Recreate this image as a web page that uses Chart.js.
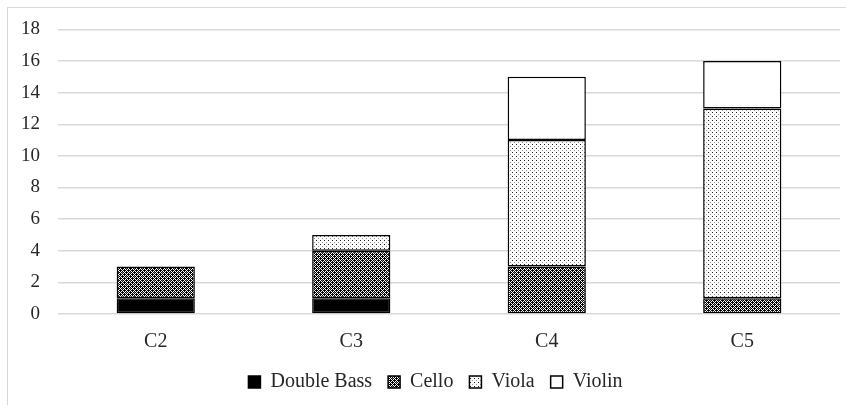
<!DOCTYPE html>
<html>
<head>
<meta charset="utf-8">
<script src="https://cdn.jsdelivr.net/npm/chart.js@4"></script>
<style>
  html, body { margin: 0; padding: 0; background: #fff; }
  #wrap { width: 846px; height: 405px; position: relative; }
</style>
</head>
<body>
<div id="wrap"><canvas id="myChart"></canvas></div>
<script>
const categories = ['C2', 'C3', 'C4', 'C5']
const doubleBass = [1, 1, 0, 0]
const cello = [2, 3, 3, 1]
const viola = [0, 1, 8, 12]
const violin = [0, 0, 4, 3]
const yTicks = [0, 2, 4, 6, 8, 10, 12, 14, 16, 18]

// small tiled patterns like the office fills
function makePattern(size, bg, draw) {
  const c = document.createElement('canvas')
  c.width = size; c.height = size
  const g = c.getContext('2d')
  g.fillStyle = bg
  g.fillRect(0, 0, size, size)
  draw(g)
  return g.createPattern(c, 'repeat')
}

const ctx = document.getElementById('myChart').getContext('2d')

const celloFill = makePattern(8, '#000', g => {
  g.fillStyle = '#fff'
  for (let x = 0; x < 8; x++) {
    for (let y = 0; y < 8; y++) {
      if ((x + y) % 4 === 0 || (x - y + 8) % 4 === 0) g.fillRect(x, y, 1, 1)
    }
  }
  g.fillStyle = '#888'
  g.fillRect(2, 0, 1, 1); g.fillRect(6, 4, 1, 1)
})

const violaFill = makePattern(4, '#fbfbfb', g => {
  g.fillStyle = '#222'
  g.fillRect(0, 0, 1, 1)
  g.fillStyle = '#999'
  g.fillRect(2, 2, 1, 1)
})

const frame = {
  id: 'frame',
  beforeDraw(chart) {
    const c = chart.ctx
    c.save()
    c.fillStyle = '#fff'
    c.fillRect(0, 0, chart.width, chart.height)
    c.strokeStyle = '#d9d9d9'
    c.lineWidth = 1
    c.strokeRect(7.5, 7.5, chart.width + 20, chart.height + 20)
    c.restore()
  }
}

// legend takes less height than its padding asks, items drawn a bit higher
const LEGEND_TRIM = 6
const LEGEND_SHIFT = 14
const legendTrim = {
  id: 'legendTrim',
  afterInit(chart) {
    const lg = chart.legend
    if (!lg) return
    const fit = lg.fit
    lg.fit = function () {
      fit.call(this)
      this.height -= LEGEND_TRIM
    }
    const draw = lg.draw
    lg.draw = function () {
      this.ctx.save()
      this.ctx.translate(LEGEND_SHIFT, -LEGEND_TRIM)
      draw.call(this)
      this.ctx.restore()
    }
  }
}

const serif = "'Liberation Serif', 'DejaVu Serif', serif"

const bar = (label, data, fill) => ({
  label: label,
  data: data,
  backgroundColor: fill,
  borderColor: '#000',
  borderWidth: 1.5,
  borderSkipped: false,
  barPercentage: 0.4,
  categoryPercentage: 1.0
})

const config = {
  type: 'bar',
  data: {
    labels: categories,
    datasets: [
      bar('Double Bass', doubleBass, '#000'),
      bar('Cello', cello, celloFill),
      bar('Viola', viola, violaFill),
      bar('Violin', violin, '#fff')
    ]
  },
  plugins: [frame, legendTrim],
  options: {
    responsive: false,
    animation: false,
    devicePixelRatio: 1,
    layout: { padding: { left: 3, right: 6, top: 24, bottom: 3 } },
    plugins: {
      tooltip: { enabled: false },
      legend: {
        position: 'bottom',
        labels: {
          boxWidth: 12,
          boxHeight: 12,
          padding: 16,
          color: '#262626',
          font: { family: serif, size: 20 }
        }
      }
    },
    scales: {
      x: {
        stacked: true,
        grid: { display: false },
        border: { display: false },
        ticks: { color: '#262626', padding: 8, font: { family: serif, size: 20 } }
      },
      y: {
        stacked: true,
        min: 0,
        max: 18,
        afterBuildTicks(axis) { axis.ticks = yTicks.map(v => ({ value: v })) },
        grid: { color: '#d9d9d9', lineWidth: 1.5, drawTicks: false },
        border: { display: false },
        ticks: { color: '#262626', padding: 18, font: { family: serif, size: 19 } }
      }
    }
  }
}

const canvas = document.getElementById('myChart')
canvas.width = 846
canvas.height = 405
new Chart(ctx, config)
</script>
</body>
</html>
